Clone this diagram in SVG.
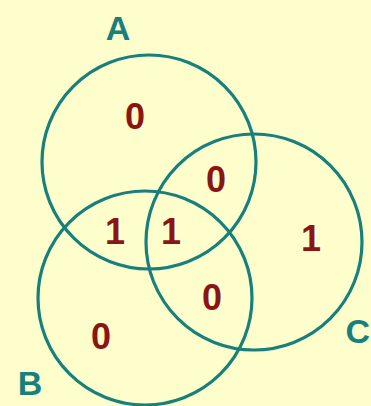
<svg xmlns="http://www.w3.org/2000/svg" width="371" height="406" viewBox="0 0 371 406">
<style>
.c{fill:none;stroke:#17807d;stroke-width:3.2}
.lab{font-family:"Liberation Sans",Arial,sans-serif;font-weight:bold;font-size:34px;fill:#17807d;text-anchor:middle}
.n{font-family:"Liberation Sans",Arial,sans-serif;font-weight:bold;font-size:36px;fill:#8a1515;text-anchor:middle}
</style>
<rect width="371" height="406" fill="#fefdcc"/>
<g id="connectors"/>
<g id="circleA"><circle class="c" cx="149" cy="162" r="107"/><text class="lab" x="118" y="40">A</text></g>
<g id="circleB"><circle class="c" cx="145" cy="298" r="107"/><text class="lab" x="30" y="395">B</text></g>
<g id="circleC"><circle class="c" cx="254" cy="242" r="108"/><text class="lab" x="370" y="343" style="text-anchor:end">C</text></g>
<g id="values">
<text class="n" x="135" y="129">0</text>
<text class="n" x="216" y="192">0</text>
<text class="n" x="115" y="244">1</text>
<text class="n" x="171" y="244">1</text>
<text class="n" x="311" y="251">1</text>
<text class="n" x="212" y="310">0</text>
<text class="n" x="101" y="349">0</text>
</g>
</svg>
